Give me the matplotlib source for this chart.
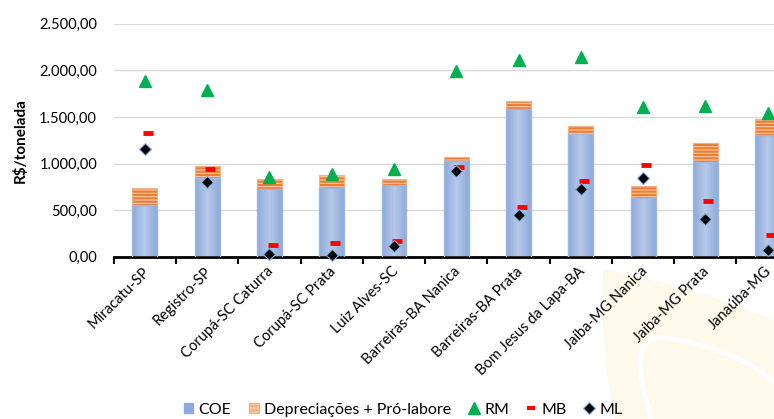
import matplotlib.pyplot as plt
import matplotlib.ticker as mticker
import matplotlib.transforms as mtransforms
from matplotlib.colors import LinearSegmentedColormap
from matplotlib.lines import Line2D
from matplotlib.patches import Patch, PathPatch
from matplotlib.path import Path
import numpy as np

plt.rcParams['font.family'] = ['Lato', 'DejaVu Sans']
plt.rcParams['hatch.linewidth'] = 1.6

regioes = ['Miracatu-SP', 'Registro-SP', 'Corupá-SC Caturra', 'Corupá-SC Prata',
           'Luiz Alves-SC', 'Barreiras-BA Nanica', 'Barreiras-BA Prata',
           'Bom Jesus da Lapa-BA', 'Jaíba-MG Nanica', 'Jaíba-MG Prata', 'Janaúba-MG']
coe = [558, 848, 726, 737, 773, 1030, 1588, 1320, 629, 1023, 1309]
depreciacoes = [182, 127, 107, 136, 60, 46, 82, 89, 126, 204, 172]
rm = [1888, 1792, 862, 890, 941, 1995, 2113, 2145, 1606, 1620, 1548]
mb = [1330, 944, 122, 147, 175, 962, 533, 819, 983, 604, 239]
ml = [1159, 805, 32, 21, 118, 923, 454, 726, 851, 408, 75]

x = np.arange(len(regioes))
w = 0.4

fig = plt.figure(figsize=(7.74, 4.19), dpi=100)


# faint leaf watermark in the lower right corner (pixel coords -> figure fraction)
def px(pts):
    return [(a / 774, 1 - b / 419) for a, b in pts]


leaf = Path(px([(603, 270), (600, 350), (615, 419), (774, 419),
                (774, 320), (690, 285), (603, 270)]),
            [Path.MOVETO, Path.CURVE3, Path.CURVE3, Path.LINETO,
             Path.LINETO, Path.CURVE3, Path.CURVE3])
fig.patches.append(PathPatch(leaf, transform=fig.transFigure, facecolor='#fdfaec',
                             edgecolor='none', zorder=-2))
vein = Path(px([(652, 419), (640, 380), (630, 340), (660, 337),
                (700, 343), (745, 355), (774, 382)]),
            [Path.MOVETO, Path.CURVE4, Path.CURVE4, Path.CURVE4,
             Path.CURVE4, Path.CURVE4, Path.CURVE4])
fig.patches.append(PathPatch(vein, transform=fig.transFigure, facecolor='none',
                             edgecolor='white', lw=3.5, zorder=-1))

ax = fig.add_axes([0.147, 0.387, 0.885, 0.556])
ax.patch.set_alpha(0)

# COE bars with a soft horizontal gradient
grad = LinearSegmentedColormap.from_list('coe', ['#8eaadb', '#b7c9e8', '#8eaadb'])
ramp = np.linspace(0, 1, 64).reshape(1, -1)
bars = ax.bar(x, coe, w, color='none', edgecolor='#9fb7e0', linewidth=1, zorder=3)
for b in bars:
    ax.imshow(ramp, cmap=grad, aspect='auto', zorder=2,
              extent=(b.get_x(), b.get_x() + b.get_width(), 0, b.get_height()))

ax.bar(x, depreciacoes, w, bottom=coe, color='#f8cbad', edgecolor='#f4b183',
       hatch='-----', linewidth=0.8, zorder=2)
for p in ax.patches[len(regioes):]:
    p._hatch_color = (0.93, 0.49, 0.19, 1.0)

ax.plot(x, rm, ls='none', marker='^', ms=9, color='#00b050', clip_on=False, zorder=4)
ax.plot(x + 0.05, mb, ls='none', marker='_', ms=7, mew=3.5, color='#ff0000',
        clip_on=False, zorder=4)
ax.plot(x, ml, ls='none', marker='D', ms=6.5, mfc='black', mec='#7fb0e0', mew=0.8,
        clip_on=False, zorder=5)

ax.set_xlim(-0.5, len(regioes) - 0.5)
ax.set_ylim(0, 2500)
ax.yaxis.set_major_locator(mticker.MultipleLocator(500))
ax.yaxis.set_major_formatter(mticker.FuncFormatter(
    lambda v, _: f'{v:,.2f}'.replace(',', 'X').replace('.', ',').replace('X', '.')))
ax.grid(axis='y', color='#d9d9d9', lw=1, zorder=0)
ax.set_axisbelow(True)
ax.tick_params(axis='y', length=0, labelsize=10.5, pad=12)

ax.set_xticks(x)
ax.set_xticklabels(regioes, rotation=45, ha='right', va='center',
                   rotation_mode='anchor', fontsize=10.5)
ax.tick_params(axis='x', length=0, pad=9)
shift = mtransforms.ScaledTranslation(2 / 100, 0, fig.dpi_scale_trans)
for lbl in ax.get_xticklabels():
    lbl.set_transform(lbl.get_transform() + shift)
ax.set_xticks(np.arange(len(regioes) + 1) - 0.5, minor=True)
ax.tick_params(axis='x', which='minor', length=5, width=1.5, direction='out')

for s in ['left', 'right', 'top']:
    ax.spines[s].set_visible(False)
ax.spines['bottom'].set_linewidth(2)

ax.set_ylabel('R$/tonelada', fontsize=11, fontweight='bold', labelpad=8)

handles = [
    Patch(facecolor='#8eaadb', edgecolor='#8eaadb', label='COE'),
    Patch(facecolor='#f8cbad', edgecolor='#f4b183', hatch='----',
          label='Depreciações + Pró-labore'),
    Line2D([], [], ls='none', marker='^', ms=8, color='#00b050', label='RM'),
    Line2D([], [], ls='none', marker='_', ms=6, mew=3, color='#ff0000', label='MB'),
    Line2D([], [], ls='none', marker='D', ms=6, mfc='black', mec='#7fb0e0',
           mew=0.8, label='ML'),
]
leg = fig.legend(handles=handles, loc='center', bbox_to_anchor=(0.521, 0.022),
                 ncol=5, frameon=False, fontsize=11.5, handlelength=0.6,
                 handleheight=0.6, handletextpad=0.35, columnspacing=1.1)

fig.savefig('out.png', dpi=100)
